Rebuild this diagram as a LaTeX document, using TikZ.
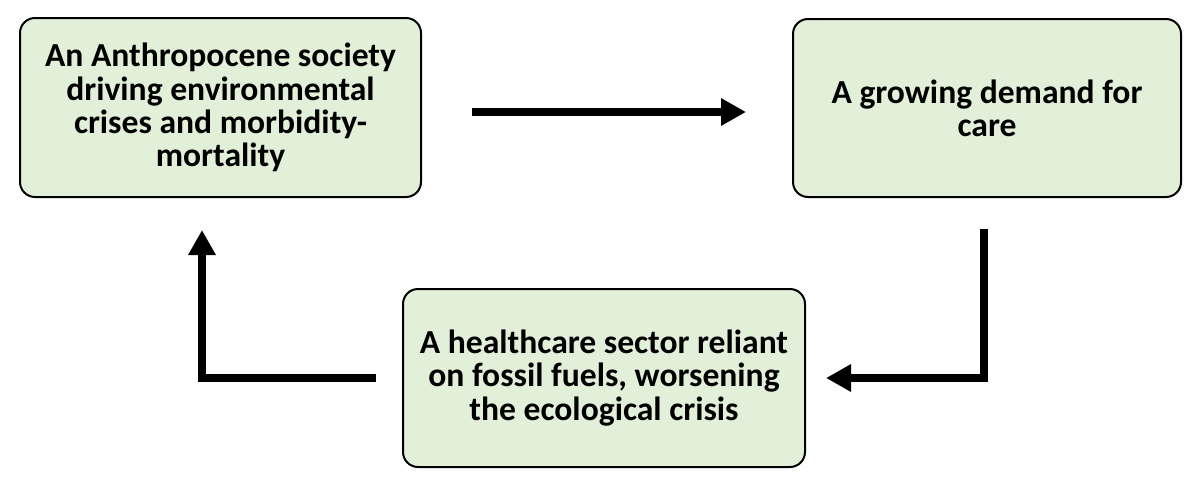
\documentclass[tikz,border=0pt]{standalone}
\usepackage{fontspec}
\setmainfont{Carlito}
\usetikzlibrary{arrows.meta}
\definecolor{boxgreen}{HTML}{E2F0D9}
\tikzset{
	box/.style={draw=black, line width=1pt, fill=boxgreen, rounded corners=7.5pt, align=center, font=\bfseries\fontsize{16.8pt}{16.6pt}\selectfont, inner sep=0pt},
	flow/.style={line width=4.3pt, -{Triangle[length=12.5pt,width=13pt]}}
}
\begin{document}
\begin{tikzpicture}[x=0.5pt,y=-0.5pt]
			\useasboundingbox (0,0) rectangle (1200,488); % khung
			\node[box, minimum width=200.5pt, minimum height=89.5pt] (anth) at (220.5,107.5) {An Anthropocene society\\ driving environmental\\ crises and morbidity-\\ mortality}; % hộp trái
			\node[box, minimum width=194pt, minimum height=89pt] (care) at (987,108) {A growing demand for\\ care}; % hộp phải
			\node[box, minimum width=201pt, minimum height=89pt] (sector) at (604,378) {A healthcare sector reliant\\ on fossil fuels, worsening\\ the ecological crisis}; % hộp dưới
			\draw[flow] ([xshift=25pt,yshift=-2.25pt]anth.east) -- ([xshift=-23pt,yshift=-2pt]care.west);
			\draw[flow] ([xshift=-1.5pt,yshift=-15.5pt]care.south) |- ([xshift=10pt]sector.east);
			\draw[flow] ([xshift=-13pt]sector.west) -| ([xshift=-9.25pt,yshift=-16pt]anth.south);
		\end{tikzpicture}
\end{document}
